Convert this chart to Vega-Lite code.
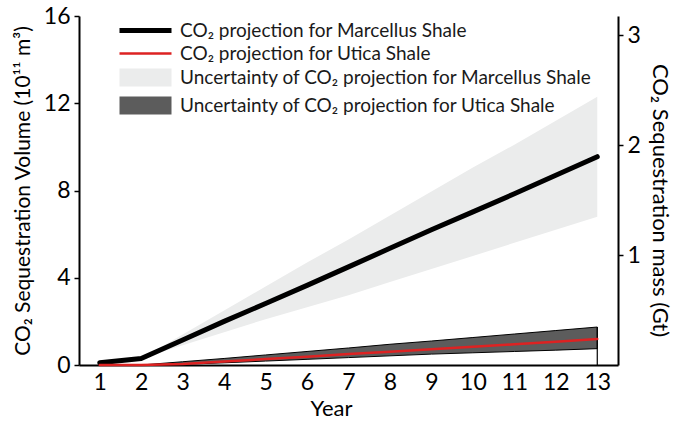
{
  "$schema": "https://vega.github.io/schema/vega-lite/v6.json",
  "autosize": {"type": "none"},
  "padding": {"left": 79, "top": 16, "right": 59, "bottom": 56},
  "width": 539,
  "height": 349,
  "background": "white",
  "config": {
    "view": {"stroke": null},
    "font": "Lato",
    "axis": {
      "grid": false,
      "domainColor": "black",
      "domainWidth": 2,
      "tickColor": "black",
      "tickWidth": 1.5,
      "tickSize": 5,
      "labelFont": "Lato",
      "labelFontSize": 23,
      "labelColor": "black",
      "titleFont": "Lato",
      "titleFontWeight": "normal",
      "titleColor": "black"
    },
    "legend": {
      "labelFont": "Lato",
      "labelFontSize": 19,
      "labelColor": "#1a1a1a",
      "labelLimit": 600,
      "padding": 0
    }
  },
  "datasets": {
    "lines": [
      {"year": 1, "series": "CO₂ projection for Marcellus Shale", "v": 0.1},
      {"year": 2, "series": "CO₂ projection for Marcellus Shale", "v": 0.3},
      {"year": 3, "series": "CO₂ projection for Marcellus Shale", "v": 1.15},
      {"year": 4, "series": "CO₂ projection for Marcellus Shale", "v": 2.0},
      {"year": 5, "series": "CO₂ projection for Marcellus Shale", "v": 2.82},
      {"year": 6, "series": "CO₂ projection for Marcellus Shale", "v": 3.65},
      {"year": 7, "series": "CO₂ projection for Marcellus Shale", "v": 4.5},
      {"year": 8, "series": "CO₂ projection for Marcellus Shale", "v": 5.35},
      {"year": 9, "series": "CO₂ projection for Marcellus Shale", "v": 6.2},
      {"year": 10, "series": "CO₂ projection for Marcellus Shale", "v": 7.02},
      {"year": 11, "series": "CO₂ projection for Marcellus Shale", "v": 7.85},
      {"year": 12, "series": "CO₂ projection for Marcellus Shale", "v": 8.7},
      {"year": 13, "series": "CO₂ projection for Marcellus Shale", "v": 9.55},
      {"year": 1, "series": "CO₂ projection for Utica Shale", "v": 0.0},
      {"year": 2, "series": "CO₂ projection for Utica Shale", "v": 0.0},
      {"year": 3, "series": "CO₂ projection for Utica Shale", "v": 0.05},
      {"year": 4, "series": "CO₂ projection for Utica Shale", "v": 0.16},
      {"year": 5, "series": "CO₂ projection for Utica Shale", "v": 0.27},
      {"year": 6, "series": "CO₂ projection for Utica Shale", "v": 0.38},
      {"year": 7, "series": "CO₂ projection for Utica Shale", "v": 0.5},
      {"year": 8, "series": "CO₂ projection for Utica Shale", "v": 0.61},
      {"year": 9, "series": "CO₂ projection for Utica Shale", "v": 0.72},
      {"year": 10, "series": "CO₂ projection for Utica Shale", "v": 0.84},
      {"year": 11, "series": "CO₂ projection for Utica Shale", "v": 0.95},
      {"year": 12, "series": "CO₂ projection for Utica Shale", "v": 1.07},
      {"year": 13, "series": "CO₂ projection for Utica Shale", "v": 1.19}
    ],
    "bands": [
      {"year": 2, "band": "Uncertainty of CO₂ projection for Marcellus Shale", "lo": 0.3, "hi": 0.3},
      {"year": 3, "band": "Uncertainty of CO₂ projection for Marcellus Shale", "lo": 0.9, "hi": 1.4},
      {"year": 4, "band": "Uncertainty of CO₂ projection for Marcellus Shale", "lo": 1.5, "hi": 2.5},
      {"year": 5, "band": "Uncertainty of CO₂ projection for Marcellus Shale", "lo": 2.1, "hi": 3.6},
      {"year": 6, "band": "Uncertainty of CO₂ projection for Marcellus Shale", "lo": 2.65, "hi": 4.7},
      {"year": 7, "band": "Uncertainty of CO₂ projection for Marcellus Shale", "lo": 3.2, "hi": 5.75},
      {"year": 8, "band": "Uncertainty of CO₂ projection for Marcellus Shale", "lo": 3.8, "hi": 6.85},
      {"year": 9, "band": "Uncertainty of CO₂ projection for Marcellus Shale", "lo": 4.4, "hi": 7.95},
      {"year": 10, "band": "Uncertainty of CO₂ projection for Marcellus Shale", "lo": 5.0, "hi": 9.05},
      {"year": 11, "band": "Uncertainty of CO₂ projection for Marcellus Shale", "lo": 5.6, "hi": 10.1},
      {"year": 12, "band": "Uncertainty of CO₂ projection for Marcellus Shale", "lo": 6.2, "hi": 11.2},
      {"year": 13, "band": "Uncertainty of CO₂ projection for Marcellus Shale", "lo": 6.8, "hi": 12.3},
      {"year": 2, "band": "Uncertainty of CO₂ projection for Utica Shale", "lo": 0.0, "hi": 0.0},
      {"year": 3, "band": "Uncertainty of CO₂ projection for Utica Shale", "lo": 0.03, "hi": 0.15},
      {"year": 4, "band": "Uncertainty of CO₂ projection for Utica Shale", "lo": 0.1, "hi": 0.3},
      {"year": 5, "band": "Uncertainty of CO₂ projection for Utica Shale", "lo": 0.18, "hi": 0.46},
      {"year": 6, "band": "Uncertainty of CO₂ projection for Utica Shale", "lo": 0.26, "hi": 0.62},
      {"year": 7, "band": "Uncertainty of CO₂ projection for Utica Shale", "lo": 0.34, "hi": 0.78},
      {"year": 8, "band": "Uncertainty of CO₂ projection for Utica Shale", "lo": 0.42, "hi": 0.95},
      {"year": 9, "band": "Uncertainty of CO₂ projection for Utica Shale", "lo": 0.5, "hi": 1.1},
      {"year": 10, "band": "Uncertainty of CO₂ projection for Utica Shale", "lo": 0.56, "hi": 1.26},
      {"year": 11, "band": "Uncertainty of CO₂ projection for Utica Shale", "lo": 0.62, "hi": 1.42},
      {"year": 12, "band": "Uncertainty of CO₂ projection for Utica Shale", "lo": 0.68, "hi": 1.58},
      {"year": 13, "band": "Uncertainty of CO₂ projection for Utica Shale", "lo": 0.75, "hi": 1.74}
    ]
  },
  "layer": [
    {
      "encoding": {
        "x": {
          "type": "quantitative",
          "scale": {"domain": [0.5, 13.5], "nice": false, "zero": false},
          "axis": {"values": [1,2,3,4,5,6,7,8,9,10,11,12,13], "ticks": false, "labelPadding": 6, "title": "Year", "titleFontSize": 22, "titlePadding": 4, "labelFlush": false, "titleX": 252}
        }
      },
      "layer": [
        {
          "data": {"name": "bands"},
          "transform": [{"filter": "datum.band === 'Uncertainty of CO₂ projection for Marcellus Shale'"}],
          "mark": {"type": "area"},
          "encoding": {
            "x": {"field": "year", "type": "quantitative"},
            "y": {
              "field": "lo", "type": "quantitative",
              "scale": {"domain": [0, 16], "nice": false},
              "axis": {"values": [0, 4, 8, 12, 16], "title": "CO₂ Sequestration Volume  (10¹¹ m³)", "titleFontSize": 21, "titlePadding": 10, "labelPadding": 4}
            },
            "y2": {"field": "hi"},
            "fill": {
              "field": "band", "type": "nominal",
              "scale": {
                "domain": ["Uncertainty of CO₂ projection for Marcellus Shale", "Uncertainty of CO₂ projection for Utica Shale"],
                "range": ["#ebecec", "#5c5c5c"]
              },
              "legend": {
                "title": null, "orient": "none", "legendX": 57, "legendY": 52,
                "symbolType": "M-5.2,-1.8H5.2V1.8H-5.2Z", "symbolSize": 100,
                "symbolStrokeWidth": 0, "symbolOpacity": 1, "labelOffset": 25, "rowPadding": 8
              }
            }
          }
        },
        {
          "data": {"name": "bands"},
          "transform": [{"filter": "datum.band === 'Uncertainty of CO₂ projection for Utica Shale'"}],
          "mark": {"type": "area", "stroke": "black", "strokeWidth": 1},
          "encoding": {
            "x": {"field": "year", "type": "quantitative"},
            "y": {"field": "lo", "type": "quantitative"},
            "y2": {"field": "hi"},
            "fill": {"field": "band", "type": "nominal"}
          }
        },
        {
          "data": {"name": "bands"},
          "transform": [{"filter": "datum.band === 'Uncertainty of CO₂ projection for Utica Shale' && datum.year === 13"}],
          "mark": {"type": "rule", "color": "black", "strokeWidth": 1.2},
          "encoding": {
            "x": {"field": "year", "type": "quantitative"},
            "y": {"field": "hi", "type": "quantitative"},
            "y2": {"datum": 0}
          }
        },
        {
          "data": {"name": "lines"},
          "mark": {"type": "line", "strokeCap": "round", "strokeJoin": "round"},
          "encoding": {
            "x": {"field": "year", "type": "quantitative"},
            "y": {"field": "v", "type": "quantitative"},
            "stroke": {
              "field": "series", "type": "nominal",
              "scale": {"domain": ["CO₂ projection for Marcellus Shale", "CO₂ projection for Utica Shale"], "range": ["black", "#dd2222"]},
              "legend": {
                "title": null, "orient": "none", "legendX": 57, "legendY": 5,
                "symbolType": "M-5.2,0H5.2", "symbolSize": 100, "symbolStrokeWidth": 3.5,
                "labelOffset": 25, "rowPadding": 3
              }
            },
            "strokeWidth": {
              "field": "series", "type": "nominal",
              "scale": {"domain": ["CO₂ projection for Marcellus Shale", "CO₂ projection for Utica Shale"], "range": [5, 2.5]},
              "legend": null
            }
          }
        }
      ]
    },
    {
      "data": {"name": "lines"},
      "mark": {"type": "point", "opacity": 0},
      "encoding": {
        "x": {"field": "year", "type": "quantitative"},
        "y": {
          "field": "v", "type": "quantitative",
          "scale": {"domain": [0, 3.173], "nice": false},
          "axis": {"orient": "right", "values": [1, 2, 3], "title": "CO₂ Sequestration mass  (Gt)", "titleFontSize": 22, "titlePadding": 7, "labelPadding": 4, "titleY": 184}
        }
      }
    }
  ],
  "resolve": {"scale": {"y": "independent"}}
}
